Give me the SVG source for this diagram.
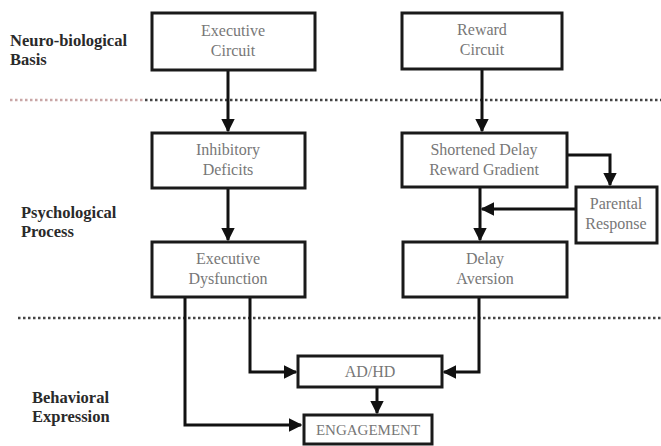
<svg xmlns="http://www.w3.org/2000/svg" width="661" height="446" viewBox="0 0 661 446">
<style>
.box{fill:#fff;stroke:#1a1a1a;stroke-width:3}
.t{font-family:"Liberation Serif","DejaVu Serif",serif;font-size:16px;fill:#777;text-anchor:middle}
.lab{font-family:"Liberation Serif","DejaVu Serif",serif;font-size:16.5px;font-weight:bold;fill:#2a2a2a}
.c{fill:none;stroke:#111;stroke-width:3}
.dot{stroke:#444;stroke-width:2.5;stroke-dasharray:2.5 2.5}
</style>
<defs>
<marker id="ah" viewBox="0 0 10 10" refX="9" refY="5" markerWidth="4.5" markerHeight="4.5" orient="auto" markerUnits="strokeWidth">
<path d="M0,0 L10,5 L0,10 z" fill="#111"/>
</marker>
</defs>
<rect width="661" height="446" fill="#fff"/>
<g id="section-lines">
<line class="dot" x1="10" y1="100" x2="145" y2="100" style="stroke:#c9a6a6"/>
<line class="dot" x1="145" y1="100" x2="661" y2="100"/>
<line class="dot" x1="18" y1="318" x2="661" y2="318"/>
</g>
<g id="labels">
<text class="lab" x="10" y="46">Neuro-biological</text>
<text class="lab" x="10" y="65">Basis</text>
<text class="lab" x="21" y="218">Psychological</text>
<text class="lab" x="21" y="237">Process</text>
<text class="lab" x="32" y="403">Behavioral</text>
<text class="lab" x="32" y="422">Expression</text>
</g>
<g id="connectors">
<path class="c" d="M228,70 V131" marker-end="url(#ah)"/>
<path class="c" d="M482,69 V131" marker-end="url(#ah)"/>
<path class="c" d="M228,188 V240" marker-end="url(#ah)"/>
<path class="c" d="M480,187 V240" marker-end="url(#ah)"/>
<path class="c" d="M567,155 H610 V185" marker-end="url(#ah)"/>
<path class="c" d="M576,209 H482" marker-end="url(#ah)"/>
<path class="c" d="M250,297 V372 H296" marker-end="url(#ah)"/>
<path class="c" d="M185,297 V425 H301" marker-end="url(#ah)"/>
<path class="c" d="M479,297 V372 H444" marker-end="url(#ah)"/>
<path class="c" d="M377,387 V413" marker-end="url(#ah)"/>
</g>
<g id="executive-circuit">
<rect class="box" x="152" y="13" width="163" height="57"/>
<text class="t" x="233" y="36">Executive</text>
<text class="t" x="233" y="56">Circuit</text>
</g>
<g id="reward-circuit">
<rect class="box" x="402" y="13" width="160" height="56"/>
<text class="t" x="482" y="35">Reward</text>
<text class="t" x="482" y="55">Circuit</text>
</g>
<g id="inhibitory-deficits">
<rect class="box" x="152" y="133" width="153" height="55"/>
<text class="t" x="228" y="155">Inhibitory</text>
<text class="t" x="228" y="175">Deficits</text>
</g>
<g id="shortened-delay">
<rect class="box" x="402" y="133" width="165" height="54"/>
<text class="t" x="484" y="155">Shortened Delay</text>
<text class="t" x="484" y="175">Reward Gradient</text>
</g>
<g id="parental-response">
<rect class="box" x="576" y="187" width="81" height="56"/>
<text class="t" x="616" y="209">Parental</text>
<text class="t" x="616" y="229">Response</text>
</g>
<g id="executive-dysfunction">
<rect class="box" x="152" y="242" width="153" height="55"/>
<text class="t" x="228" y="264">Executive</text>
<text class="t" x="228" y="284">Dysfunction</text>
</g>
<g id="delay-aversion">
<rect class="box" x="403" y="242" width="164" height="55"/>
<text class="t" x="485" y="264">Delay</text>
<text class="t" x="485" y="284">Aversion</text>
</g>
<g id="adhd">
<rect class="box" x="298" y="356" width="144" height="31"/>
<text class="t" x="370" y="377">AD/HD</text>
</g>
<g id="engagement">
<rect class="box" x="304" y="415" width="128" height="29"/>
<text class="t" x="368" y="435" style="font-size:15px">ENGAGEMENT</text>
</g>
</svg>
